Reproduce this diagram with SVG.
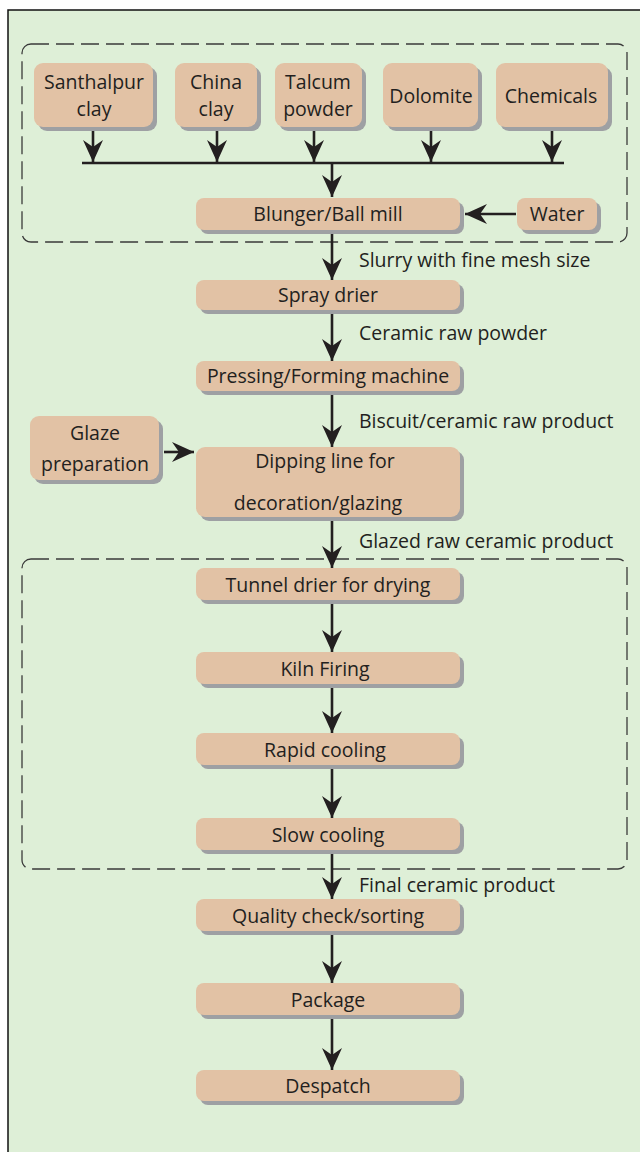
<svg xmlns="http://www.w3.org/2000/svg" width="640" height="1152" viewBox="0 0 640 1152">
<style>
.n{fill:#E2C2A5}
.s{fill:#9EA0A3}
.t{font-family:"Open Sans","Liberation Sans",sans-serif;font-size:19.5px;fill:#231F20;text-anchor:middle}
.l{font-family:"Open Sans","Liberation Sans",sans-serif;font-size:19.5px;fill:#231F20}
.c{stroke:#231F20;stroke-width:2.6;fill:none}
.d{stroke:#3a3a3a;stroke-width:1.3;fill:none;stroke-dasharray:18 7}
</style>
<defs>
<marker id="ah" markerUnits="userSpaceOnUse" viewBox="-24 -12 26 24" refX="0" refY="0" markerWidth="26" markerHeight="24" orient="auto">
<path d="M0,0 L-22,-10 L-15,0 L-22,10 Z" fill="#231F20"/>
</marker>
</defs>
<rect x="0" y="0" width="640" height="1152" fill="#FFFFFF"/>
<rect x="8" y="10" width="640" height="1150" fill="#DEEFD7" stroke="#111" stroke-width="1.5"/>
<g id="groups">
<rect class="d" x="22" y="44" width="605" height="198" rx="9"/>
<rect class="d" x="22" y="559" width="605" height="310" rx="9"/>
</g>
<g id="connectors">
<line class="c" x1="82" y1="163" x2="564" y2="163"/>
<line class="c" x1="93" y1="131" x2="93" y2="162" marker-end="url(#ah)"/>
<line class="c" x1="217" y1="131" x2="217" y2="162" marker-end="url(#ah)"/>
<line class="c" x1="314" y1="131" x2="314" y2="162" marker-end="url(#ah)"/>
<line class="c" x1="431" y1="131" x2="431" y2="162" marker-end="url(#ah)"/>
<line class="c" x1="552" y1="131" x2="552" y2="162" marker-end="url(#ah)"/>
<line class="c" x1="332" y1="163" x2="332" y2="197" marker-end="url(#ah)"/>
<line class="c" x1="516" y1="214" x2="465" y2="214" marker-end="url(#ah)"/>
<line class="c" x1="332" y1="234" x2="332" y2="280" marker-end="url(#ah)"/>
<line class="c" x1="332" y1="313" x2="332" y2="361" marker-end="url(#ah)"/>
<line class="c" x1="332" y1="395" x2="332" y2="447" marker-end="url(#ah)"/>
<line class="c" x1="164" y1="452" x2="194" y2="452" marker-end="url(#ah)"/>
<line class="c" x1="332" y1="521" x2="332" y2="568" marker-end="url(#ah)"/>
<line class="c" x1="332" y1="604" x2="332" y2="652" marker-end="url(#ah)"/>
<line class="c" x1="332" y1="688" x2="332" y2="733" marker-end="url(#ah)"/>
<line class="c" x1="332" y1="769" x2="332" y2="818" marker-end="url(#ah)"/>
<line class="c" x1="332" y1="854" x2="332" y2="899" marker-end="url(#ah)"/>
<line class="c" x1="332" y1="935" x2="332" y2="983" marker-end="url(#ah)"/>
<line class="c" x1="332" y1="1019" x2="332" y2="1070" marker-end="url(#ah)"/>
</g>
<g id="edge-labels">
<text class="l" x="359" y="267">Slurry with fine mesh size</text>
<text class="l" x="359" y="340">Ceramic raw powder</text>
<text class="l" x="359" y="428">Biscuit/ceramic raw product</text>
<text class="l" x="359" y="548">Glazed raw ceramic product</text>
<text class="l" x="359" y="892">Final ceramic product</text>
</g>
<g id="santhalpur"><rect class="s" x="38" y="67" width="119" height="64" rx="9"/><rect class="n" x="34" y="63" width="119" height="64" rx="9"/><text class="t" x="94" y="89">Santhalpur</text><text class="t" x="94" y="116">clay</text></g>
<g id="china"><rect class="s" x="179" y="67" width="82" height="64" rx="9"/><rect class="n" x="175" y="63" width="82" height="64" rx="9"/><text class="t" x="216" y="89">China</text><text class="t" x="216" y="116">clay</text></g>
<g id="talcum"><rect class="s" x="279" y="67" width="87" height="64" rx="9"/><rect class="n" x="275" y="63" width="87" height="64" rx="9"/><text class="t" x="318" y="89">Talcum</text><text class="t" x="318" y="116">powder</text></g>
<g id="dolomite"><rect class="s" x="387" y="67" width="95" height="64" rx="9"/><rect class="n" x="383" y="63" width="95" height="64" rx="9"/><text class="t" x="431" y="103">Dolomite</text></g>
<g id="chemicals"><rect class="s" x="500" y="67" width="112" height="64" rx="9"/><rect class="n" x="496" y="63" width="112" height="64" rx="9"/><text class="t" x="551" y="103">Chemicals</text></g>
<g id="blunger"><rect class="s" x="200" y="202" width="264" height="32" rx="8"/><rect class="n" x="196" y="198" width="264" height="32" rx="8"/><text class="t" x="328" y="221">Blunger/Ball mill</text></g>
<g id="water"><rect class="s" x="521" y="202" width="80" height="32" rx="8"/><rect class="n" x="517" y="198" width="80" height="32" rx="8"/><text class="t" x="557" y="221">Water</text></g>
<g id="spray"><rect class="s" x="200" y="284" width="264" height="30" rx="8"/><rect class="n" x="196" y="280" width="264" height="30" rx="8"/><text class="t" x="328" y="302">Spray drier</text></g>
<g id="pressing"><rect class="s" x="200" y="365" width="264" height="30" rx="8"/><rect class="n" x="196" y="361" width="264" height="30" rx="8"/><text class="t" x="328" y="383">Pressing/Forming machine</text></g>
<g id="glaze"><rect class="s" x="34" y="420" width="129" height="64" rx="9"/><rect class="n" x="30" y="416" width="129" height="64" rx="9"/><text class="t" x="95" y="440">Glaze</text><text class="t" x="95" y="471">preparation</text></g>
<g id="dipping"><rect class="s" x="200" y="451" width="264" height="70" rx="9"/><rect class="n" x="196" y="447" width="264" height="70" rx="9"/><text class="t" x="325" y="468">Dipping line for</text><text class="t" x="318" y="510">decoration/glazing</text></g>
<g id="tunnel"><rect class="s" x="200" y="572" width="264" height="32" rx="8"/><rect class="n" x="196" y="568" width="264" height="32" rx="8"/><text class="t" x="328" y="592">Tunnel drier for drying</text></g>
<g id="kiln"><rect class="s" x="200" y="656" width="264" height="32" rx="8"/><rect class="n" x="196" y="652" width="264" height="32" rx="8"/><text class="t" x="325" y="676">Kiln Firing</text></g>
<g id="rapid"><rect class="s" x="200" y="737" width="264" height="32" rx="8"/><rect class="n" x="196" y="733" width="264" height="32" rx="8"/><text class="t" x="325" y="757">Rapid cooling</text></g>
<g id="slow"><rect class="s" x="200" y="822" width="264" height="32" rx="8"/><rect class="n" x="196" y="818" width="264" height="32" rx="8"/><text class="t" x="328" y="842">Slow cooling</text></g>
<g id="quality"><rect class="s" x="200" y="903" width="264" height="32" rx="8"/><rect class="n" x="196" y="899" width="264" height="32" rx="8"/><text class="t" x="328" y="923">Quality check/sorting</text></g>
<g id="package"><rect class="s" x="200" y="987" width="264" height="32" rx="8"/><rect class="n" x="196" y="983" width="264" height="32" rx="8"/><text class="t" x="328" y="1007">Package</text></g>
<g id="despatch"><rect class="s" x="200" y="1074" width="264" height="31" rx="8"/><rect class="n" x="196" y="1070" width="264" height="31" rx="8"/><text class="t" x="328" y="1093">Despatch</text></g>
</svg>
